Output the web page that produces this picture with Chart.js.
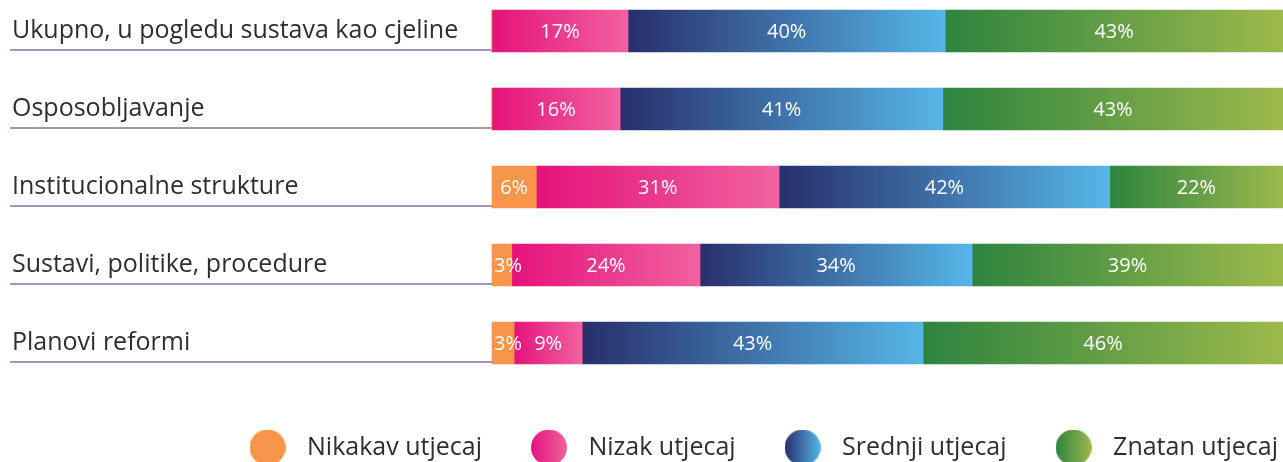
<!DOCTYPE html>
<html>
<head>
<meta charset="utf-8">
<script src="https://cdn.jsdelivr.net/npm/chart.js@4"></script>
<style>
html, body { margin: 0; padding: 0; background: #fff; }
#wrap { width: 1283px; height: 462px; position: relative; }
</style>
</head>
<body>
<div id="wrap"><canvas id="chart"></canvas></div>
<script>
// Podaci (očitano sa slike, u %)
const kategorije = [
  'Ukupno, u pogledu sustava kao cjeline',
  'Osposobljavanje',
  'Institucionalne strukture',
  'Sustavi, politike, procedure',
  'Planovi reformi'
];
const serije = ['Nikakav utjecaj', 'Nizak utjecaj', 'Srednji utjecaj', 'Znatan utjecaj'];
const nikakav = [0, 0, 5.6, 2.5, 2.8];
const nizak = [17.2, 16.2, 30.7, 23.8, 8.6];
const srednji = [40.1, 40.8, 41.8, 34.4, 43.1];
const znatan = [42.7, 43.0, 21.9, 39.3, 45.5];

// boje: početak i kraj gradijenta
const boje = [
  ['#f7964b', '#f7964b'],
  ['#e5127b', '#f062a0'],
  ['#282f6c', '#56b6e7'],
  ['#2e843f', '#9cb94c']
];

const FONT = '"Open Sans", sans-serif';

function gradijent(c) {
  const chart = c.chart;
  const par = boje[c.datasetIndex];
  if (!chart.chartArea || c.type !== 'data') return par[0];
  const x = chart.scales.x;
  let start = 0;
  for (let d = 0; d < c.datasetIndex; d++) start += chart.data.datasets[d].data[c.dataIndex];
  const end = start + chart.data.datasets[c.datasetIndex].data[c.dataIndex];
  const x0 = x.getPixelForValue(start), x1 = x.getPixelForValue(end);
  if (!isFinite(x0) || !isFinite(x1) || x1 - x0 < 1) return par[0];
  const g = chart.ctx.createLinearGradient(x0, 0, x1, 0);
  g.addColorStop(0, par[0]);
  g.addColorStop(1, par[1]);
  return g;
}

// krug za legendu
function krug(par) {
  const c = document.createElement('canvas');
  c.width = 36; c.height = 36;
  const k = c.getContext('2d');
  const g = k.createLinearGradient(0, 0, 36, 0);
  g.addColorStop(0, par[0]);
  g.addColorStop(1, par[1]);
  k.fillStyle = g;
  k.beginPath();
  k.arc(18, 18, 18, 0, Math.PI * 2);
  k.fill();
  return c;
}

// postotci u trakama
const oznake = {
  id: 'oznake',
  afterDatasetsDraw(chart) {
    const ctx = chart.ctx;
    ctx.save();
    ctx.font = '20px ' + FONT;
    ctx.fillStyle = '#fff';
    ctx.textBaseline = 'middle';
    ctx.textAlign = 'center';
    chart.data.datasets.forEach((ds, d) => {
      chart.getDatasetMeta(d).data.forEach((bar, i) => {
        const v = ds.data[i];
        if (!v) return;
        const t = Math.round(v) + '%';
        const w = ctx.measureText(t).width;
        let x = (bar.x + bar.base) / 2;
        x = Math.max(x, chart.chartArea.left + 2 + w / 2);
        ctx.fillText(t, x, bar.y + 1);
      });
    });
    ctx.restore();
  }
};

// crte ispod naziva + pomak legende
const crte = {
  id: 'crte',
  afterLayout(chart) {
    const lg = chart.legend;
    if (lg) {
      lg.left += 35; lg.right += 35;
      lg.top += 8; lg.bottom += 8;
    }
  },
  afterDraw(chart) {
    const y = chart.scales.y, ctx = chart.ctx;
    ctx.save();
    ctx.strokeStyle = '#a893b1';
    ctx.lineWidth = 2;
    y.ticks.forEach((t, i) => {
      const py = Math.round(y.getPixelForTick(i)) + 19;
      ctx.beginPath();
      ctx.moveTo(y.left - 2, py);
      ctx.lineTo(chart.chartArea.left, py);
      ctx.stroke();
    });
    ctx.restore();
  }
};

const podaci = [nikakav, nizak, srednji, znatan];

const ctx = document.getElementById('chart').getContext('2d');
const chart = new Chart(ctx, {
  type: 'bar',
  data: {
    labels: kategorije,
    datasets: serije.map((s, i) => ({
      label: s,
      data: podaci[i],
      backgroundColor: gradijent,
      borderWidth: 0,
      barThickness: 42
    }))
  },
  options: {
    indexAxis: 'y',
    responsive: true,
    maintainAspectRatio: false,
    animation: false,
    clip: false,
    layout: { padding: { left: 12, top: 31, right: 0, bottom: 0 } },
    scales: {
      x: {
        stacked: true,
        min: 0,
        max: 100,
        ticks: { display: false },
        grid: { display: false },
        border: { display: false },
        afterFit: s => { s.height = 44; }
      },
      y: {
        stacked: true,
        offset: false,
        grid: { display: false },
        border: { display: false },
        ticks: {
          crossAlign: 'far',
          color: '#2e2e2e',
          font: { size: 25, family: FONT }
        },
        afterFit: s => { s.width = 480; }
      }
    },
    plugins: {
      tooltip: { enabled: false },
      legend: {
        position: 'bottom',
        align: 'end',
        labels: {
          usePointStyle: true,
          pointStyleWidth: 54,
          padding: 40,
          color: '#2e2e2e',
          font: { size: 25, family: FONT },
          generateLabels: () => serije.map((s, i) => ({
            text: s,
            pointStyle: krug(boje[i]),
            fillStyle: boje[i][0],
            strokeStyle: 'transparent',
            lineWidth: 0,
            hidden: false,
            datasetIndex: i,
            fontColor: '#2e2e2e'
          }))
        }
      }
    }
  },
  plugins: [oznake, crte]
});
</script>
</body>
</html>
